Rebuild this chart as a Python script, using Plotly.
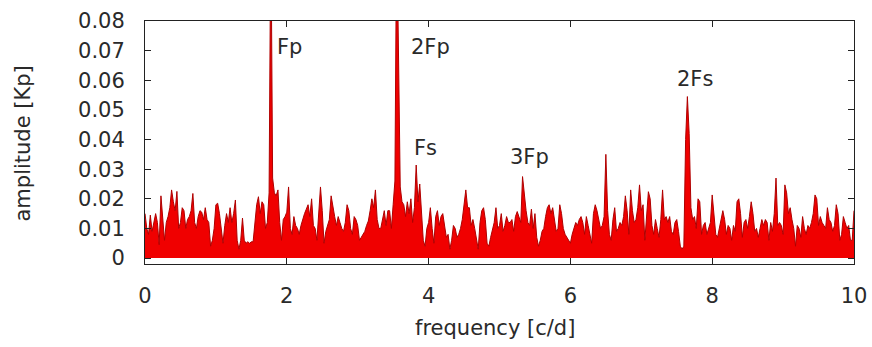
import numpy as np
import plotly.graph_objects as go

# frequency grid [c/d]
freq = np.round(np.arange(401) * 0.025, 3)

# amplitude [Kp]
amplitude = [
    0.015, 0.010, 0.008, 0.0145, 0.009, 0.0125, 0.015, 0.012, 0.0045, 0.021, 0.012, 0.006, 0.012, 0.014, 0.017, 0.023, 0.019, 0.016, 0.0225, 0.010,
    0.012, 0.017, 0.016, 0.010, 0.013, 0.014, 0.016, 0.0218, 0.012, 0.010, 0.014, 0.016, 0.0155, 0.013, 0.017, 0.013, 0.012, 0.004, 0.006, 0.010,
    0.018, 0.0185, 0.015, 0.010, 0.005, 0.011, 0.015, 0.012, 0.017, 0.012, 0.015, 0.0196, 0.006, 0.003, 0.006, 0.0135, 0.006, 0.005, 0.0055, 0.005,
    0.0055, 0.0055, 0.013, 0.018, 0.0207, 0.015, 0.019, 0.018, 0.010, 0.012, 0.022, 0.115, 0.027, 0.022, 0.021, 0.023, 0.012, 0.006, 0.013, 0.014,
    0.0155, 0.024, 0.010, 0.008, 0.014, 0.011, 0.010, 0.008, 0.011, 0.0135, 0.015, 0.0165, 0.018, 0.014, 0.020, 0.011, 0.010, 0.006, 0.016, 0.024,
    0.016, 0.005, 0.009, 0.011, 0.013, 0.021, 0.017, 0.014, 0.011, 0.014, 0.012, 0.010, 0.009, 0.012, 0.018, 0.016, 0.010, 0.008, 0.014, 0.013,
    0.011, 0.006, 0.007, 0.008, 0.009, 0.011, 0.0125, 0.016, 0.020, 0.017, 0.023, 0.013, 0.010, 0.010, 0.013, 0.016, 0.011, 0.016, 0.016, 0.010,
    0.018, 0.026, 0.115, 0.071, 0.024, 0.019, 0.018, 0.014, 0.019, 0.015, 0.020, 0.012, 0.017, 0.0314, 0.019, 0.025, 0.014, 0.006, 0.004, 0.010,
    0.012, 0.017, 0.010, 0.005, 0.014, 0.016, 0.011, 0.014, 0.015, 0.010, 0.007, 0.008, 0.003, 0.006, 0.011, 0.010, 0.007, 0.008, 0.010, 0.013,
    0.018, 0.023, 0.017, 0.017, 0.011, 0.013, 0.010, 0.007, 0.003, 0.012, 0.016, 0.017, 0.013, 0.005, 0.004, 0.007, 0.010, 0.012, 0.017, 0.010,
    0.011, 0.015, 0.009, 0.011, 0.014, 0.012, 0.012, 0.013, 0.009, 0.014, 0.0157, 0.014, 0.012, 0.0275, 0.021, 0.016, 0.012, 0.011, 0.0165, 0.010,
    0.015, 0.007, 0.004, 0.006, 0.009, 0.010, 0.014, 0.017, 0.018, 0.015, 0.017, 0.013, 0.009, 0.010, 0.018, 0.015, 0.010, 0.008, 0.007, 0.006,
    0.005, 0.008, 0.010, 0.012, 0.011, 0.013, 0.014, 0.012, 0.008, 0.014, 0.011, 0.008, 0.005, 0.015, 0.018, 0.016, 0.013, 0.010, 0.011, 0.014,
    0.035, 0.016, 0.008, 0.006, 0.013, 0.017, 0.009, 0.010, 0.012, 0.011, 0.014, 0.021, 0.016, 0.008, 0.023, 0.016, 0.012, 0.013, 0.017, 0.0247,
    0.016, 0.018, 0.006, 0.013, 0.0224, 0.020, 0.011, 0.008, 0.013, 0.010, 0.007, 0.013, 0.023, 0.013, 0.014, 0.012, 0.014, 0.009, 0.008, 0.012,
    0.013, 0.009, 0.004, 0.003, 0.004, 0.040, 0.0545, 0.042, 0.017, 0.013, 0.014, 0.010, 0.020, 0.019, 0.008, 0.011, 0.012, 0.008, 0.010, 0.012,
    0.0213, 0.014, 0.008, 0.007, 0.010, 0.013, 0.016, 0.013, 0.008, 0.011, 0.010, 0.006, 0.011, 0.009, 0.019, 0.020, 0.015, 0.007, 0.012, 0.013,
    0.010, 0.014, 0.019, 0.015, 0.009, 0.010, 0.007, 0.010, 0.013, 0.011, 0.013, 0.012, 0.006, 0.012, 0.009, 0.015, 0.027, 0.011, 0.012, 0.011,
    0.008, 0.0247, 0.022, 0.015, 0.017, 0.013, 0.010, 0.004, 0.011, 0.010, 0.007, 0.014, 0.010, 0.008, 0.011, 0.010, 0.012, 0.015, 0.0213, 0.020,
    0.011, 0.014, 0.012, 0.011, 0.010, 0.017, 0.013, 0.012, 0.009, 0.011, 0.018, 0.015, 0.006, 0.008, 0.014, 0.012, 0.010, 0.011, 0.006, 0.006, 0.016,
]

# peak labels
label_text = ["Fp", "2Fp", "Fs", "3Fp", "2Fs"]
label_x = [1.83, 3.72, 3.77, 5.12, 7.475]
label_y = [0.0712, 0.0712, 0.0372, 0.0341, 0.0605]

x_ticks = [0, 2, 4, 6, 8, 10]
y_ticks = [0, 0.01, 0.02, 0.03, 0.04, 0.05, 0.06, 0.07, 0.08]
y_ticktext = ["0", "0.01", "0.02", "0.03", "0.04", "0.05", "0.06", "0.07", "0.08"]

font_main = "DejaVu Sans, Verdana, sans-serif"
text_color = "#2a2a2a"

fig = go.Figure()
fig.add_trace(go.Scatter(
    x=freq, y=amplitude, mode="lines",
    line=dict(color="#b00000", width=1),
    fill="tozeroy", fillcolor="#f00000",
    hoverinfo="skip", showlegend=False,
))

for t, xx, yy in zip(label_text, label_x, label_y):
    fig.add_annotation(x=xx, y=yy, text=t, showarrow=False,
                       xanchor="left", yanchor="middle",
                       font=dict(family=font_main, size=21, color=text_color))

# axis titles
fig.add_annotation(xref="paper", yref="paper", x=0.494, y=-0.263,
                   text="frequency [c/d]", showarrow=False,
                   xanchor="center", yanchor="middle",
                   font=dict(family=font_main, size=21, color=text_color))
fig.add_annotation(xref="paper", yref="paper", x=-0.172, y=0.496,
                   text="amplitude [Kp]", showarrow=False, textangle=-90,
                   xanchor="center", yanchor="middle",
                   font=dict(family=font_main, size=21, color=text_color))

fig.update_layout(
    width=872, height=347,
    margin=dict(l=145, r=18, t=21, b=83, autoexpand=False),
    paper_bgcolor="white", plot_bgcolor="white",
    showlegend=False,
)
fig.update_xaxes(
    range=[0, 10], tickvals=x_ticks, ticktext=[str(v) for v in x_ticks],
    ticks="inside", ticklen=6, tickwidth=1, tickcolor="#222",
    showline=True, linecolor="#222", linewidth=1, mirror="ticks",
    showgrid=False, zeroline=False, automargin=False,
    tickfont=dict(family=font_main, size=21, color=text_color),
    ticklabelstandoff=13,
)
fig.update_yaxes(
    range=[-0.002, 0.08], tickvals=y_ticks, ticktext=y_ticktext,
    ticks="inside", ticklen=6, tickwidth=1, tickcolor="#222",
    showline=True, linecolor="#222", linewidth=1, mirror="ticks",
    showgrid=False, zeroline=False, automargin=False,
    tickfont=dict(family=font_main, size=21, color=text_color),
    ticklabelstandoff=15,
)

fig.write_html("out.html")
